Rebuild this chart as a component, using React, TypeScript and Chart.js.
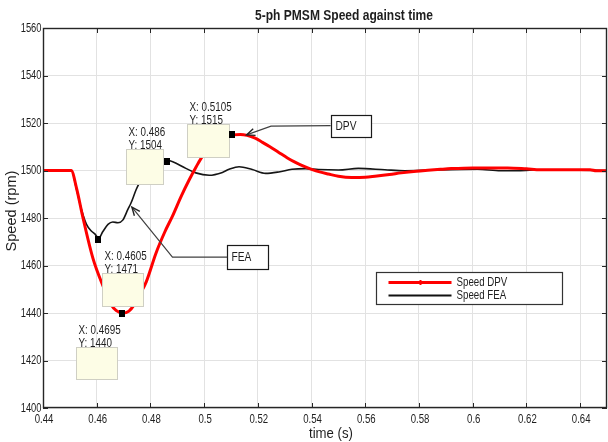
import React, { useEffect, useRef } from "react";
import { Chart, registerables } from "chart.js";

Chart.register(...registerables);

// ---------- data ----------
const xTicks = [0.44, 0.46, 0.48, 0.5, 0.52, 0.54, 0.56, 0.58, 0.6, 0.62, 0.64];
const xTickLabels = ["0.44", "0.46", "0.48", "0.5", "0.52", "0.54", "0.56", "0.58", "0.6", "0.62", "0.64"];
const yTicks = [1400, 1420, 1440, 1460, 1480, 1500, 1520, 1540, 1560];
const yTickLabels = ["1400", "1420", "1440", "1460", "1480", "1500", "1520", "1540", "1560"];

const seriesNames = ["Speed DPV", "Speed FEA"];
const titleText = "5-ph PMSM Speed against time";
const xTitle = "time (s)";
const yTitle = "Speed (rpm)";

const dpvTime = [
  0.44, 0.4505, 0.4525, 0.4549, 0.4586, 0.4623, 0.4654, 0.4673, 0.4697, 0.472,
  0.474, 0.4759, 0.4784, 0.4821, 0.4853, 0.4883, 0.4914, 0.4944, 0.497, 0.4994,
  0.503, 0.507, 0.5105, 0.5135, 0.516, 0.519, 0.5215, 0.5245, 0.5278, 0.531,
  0.534, 0.537, 0.54, 0.543, 0.5463, 0.55, 0.5549, 0.56, 0.5636, 0.569,
  0.5734, 0.579, 0.5833, 0.588, 0.592, 0.6, 0.613, 0.62, 0.6252, 0.6437,
  0.646, 0.65,
];
const dpvSpeed = [
  1500, 1500, 1492.5, 1480, 1463, 1451.5, 1443.5, 1441, 1440, 1440.8,
  1443.5, 1447.5, 1453, 1465.3, 1474, 1481, 1489, 1496, 1501.5, 1506,
  1510, 1513.5, 1515, 1515.2, 1514.8, 1513.6, 1512, 1510, 1507.6, 1505.3,
  1503.4, 1501.8, 1500.5, 1499.4, 1498.5, 1497.6, 1497.1, 1497.2, 1497.6, 1498.3,
  1499, 1499.7, 1500.1, 1500.5, 1500.8, 1501.1, 1501.1, 1500.7, 1500.3, 1500.3,
  1499.9, 1499.9,
];

const feaTime = [
  0.44, 0.4506, 0.4525, 0.4543, 0.4562, 0.458, 0.4593, 0.4607, 0.4623, 0.4642,
  0.466, 0.4679, 0.4697, 0.4716, 0.4728, 0.4747, 0.4759, 0.478, 0.481, 0.484,
  0.486, 0.4883, 0.4932, 0.4969, 0.5019, 0.5068, 0.5093, 0.513, 0.5179, 0.5229,
  0.5278, 0.5327, 0.5377, 0.5426, 0.55, 0.5574, 0.5673, 0.5747, 0.5846, 0.6019,
  0.6104, 0.617, 0.6252, 0.64, 0.65,
];
const feaSpeed = [
  1500, 1500, 1492, 1483.7, 1477.3, 1474.5, 1473.3, 1471.5, 1474.3, 1477.3,
  1478.3, 1478, 1479.1, 1483.6, 1486.4, 1492, 1494.8, 1499, 1502.5, 1504,
  1504.3, 1503.7, 1500.9, 1499, 1498, 1499.2, 1500.5, 1501.6, 1500.4, 1498.8,
  1499.4, 1500.5, 1500.8, 1500.4, 1500.2, 1500.9, 1500.3, 1499.9, 1500.2, 1500.5,
  1499.9, 1499.9, 1500.3, 1500.1, 1500,
];

// data tips
const tipTime = [0.4605, 0.4695, 0.486, 0.5105];
const tipSpeed = [1471, 1440, 1504, 1515];
const tipXText = ["X: 0.4605", "X: 0.4695", "X: 0.486", "X: 0.5105"];
const tipYText = ["Y: 1471", "Y: 1440", "Y: 1504", "Y: 1515"];

// text arrows
const arrowLabels = ["DPV", "FEA"];

// ---------- style / layout ----------
const FONT = "'Liberation Sans', Arial, sans-serif";
const TXT = "#1e1e1e";
// box offsets from marker pixel: [dx, dy, w, h]
const TIP_BOX = [
  [4, 34, 41, 33],
  [-46, 34, 41, 32],
  [-41, -12, 37, 35],
  [-45, -11, 42, 33],
];
// arrow annotations in data coords
const ARROWS = [
  { box: [0.5471, 1523.4, 0.5623, 1514.2], from: [0.5471, 1518.9], elbow: [0.5249, 1518.7], tip: [0.5158, 1515.0] },
  { box: [0.5086, 1468.6, 0.5237, 1458.5], from: [0.5086, 1463.5], elbow: [0.4882, 1463.5], tip: [0.4731, 1484.6] },
];
const LEGEND_BOX = [0.5641, 1457.2, 0.6331, 1443.7];

function line(ctx: CanvasRenderingContext2D, x1: number, y1: number, x2: number, y2: number) {
  ctx.beginPath();
  ctx.moveTo(x1, y1);
  ctx.lineTo(x2, y2);
  ctx.stroke();
}

function text(
  ctx: CanvasRenderingContext2D,
  s: string,
  x: number,
  y: number,
  size: number,
  sx: number,
  align: CanvasTextAlign = "left",
  bold = false,
  rot = 0
) {
  ctx.save();
  ctx.translate(x, y);
  if (rot) ctx.rotate(rot);
  ctx.scale(sx, 1);
  ctx.font = `${bold ? "bold " : ""}${size}px ${FONT}`;
  ctx.fillStyle = TXT;
  ctx.textAlign = align;
  ctx.textBaseline = "middle";
  ctx.fillText(s, 0, 0);
  ctx.restore();
}

const overlayPlugin = {
  id: "overlay",
  afterDatasetsDraw(chart: any) {
    const { ctx, chartArea: a, scales } = chart;
    const x = scales.x;
    const y = scales.y;
    ctx.save();

    // frame + inward ticks
    ctx.strokeStyle = "#262626";
    ctx.lineWidth = 1;
    for (const v of xTicks) {
      const px = Math.round(x.getPixelForValue(v)) + 0.5;
      line(ctx, px, a.bottom, px, a.bottom - 5);
      line(ctx, px, a.top, px, a.top + 5);
    }
    for (const v of yTicks) {
      const py = Math.round(y.getPixelForValue(v)) + 0.5;
      line(ctx, a.left, py, a.left + 5, py);
      line(ctx, a.right, py, a.right - 5, py);
    }
    ctx.lineWidth = 1.4;
    ctx.strokeRect(a.left + 0.5, a.top + 0.5, a.right - a.left - 1, a.bottom - a.top - 1);

    // tick labels
    xTicks.forEach((v, i) => {
      text(ctx, xTickLabels[i], x.getPixelForValue(v) + 1, a.bottom + 12, 12, 0.8, "center");
    });
    yTicks.forEach((v, i) => {
      text(ctx, yTickLabels[i], a.left - 1.5, y.getPixelForValue(v) + 0.5, 12, 0.78, "right");
    });

    // data tips
    for (let i = 0; i < tipTime.length; i++) {
      const px = x.getPixelForValue(tipTime[i]);
      const py = y.getPixelForValue(tipSpeed[i]);
      const [dx, dy, w, h] = TIP_BOX[i];
      const bx = Math.round(px + dx) + 0.5;
      const by = Math.round(py + dy) + 0.5;
      ctx.fillStyle = "#fdfde6";
      ctx.fillRect(bx, by, w, h);
      ctx.strokeStyle = "#cfcfc4";
      ctx.lineWidth = 1;
      ctx.strokeRect(bx, by, w, h);
      text(ctx, tipXText[i], bx + 2, by - 16.5, 12, 0.82);
      text(ctx, tipYText[i], bx + 2, by - 3.5, 12, 0.82);
      ctx.fillStyle = "#000";
      ctx.fillRect(Math.round(px - 3), Math.round(py - 3.5), 6, 7);
    }

    // arrows with labels
    for (let i = 0; i < ARROWS.length; i++) {
      const ar = ARROWS[i];
      const bx0 = Math.round(x.getPixelForValue(ar.box[0])) + 0.5;
      const by0 = Math.round(y.getPixelForValue(ar.box[1])) + 0.5;
      const bx1 = Math.round(x.getPixelForValue(ar.box[2])) + 0.5;
      const by1 = Math.round(y.getPixelForValue(ar.box[3])) + 0.5;
      ctx.fillStyle = "#fff";
      ctx.fillRect(bx0, by0, bx1 - bx0, by1 - by0);
      ctx.strokeStyle = "#1a1a1a";
      ctx.lineWidth = 1.2;
      ctx.strokeRect(bx0, by0, bx1 - bx0, by1 - by0);
      text(ctx, arrowLabels[i], bx0 + 4, (by0 + by1) / 2 + 0.5, 12, 0.85);

      const fx = x.getPixelForValue(ar.from[0]);
      const fy = y.getPixelForValue(ar.from[1]);
      const ex = x.getPixelForValue(ar.elbow[0]);
      const ey = y.getPixelForValue(ar.elbow[1]);
      const tx = x.getPixelForValue(ar.tip[0]);
      const ty = y.getPixelForValue(ar.tip[1]);
      ctx.strokeStyle = "#404040";
      ctx.lineWidth = 1.2;
      ctx.beginPath();
      ctx.moveTo(fx, fy);
      ctx.lineTo(ex, ey);
      ctx.lineTo(tx, ty);
      ctx.stroke();
      const ang = Math.atan2(ty - ey, tx - ex);
      const L = 9;
      ctx.beginPath();
      ctx.moveTo(tx - L * Math.cos(ang - 0.4), ty - L * Math.sin(ang - 0.4));
      ctx.lineTo(tx, ty);
      ctx.lineTo(tx - L * Math.cos(ang + 0.4), ty - L * Math.sin(ang + 0.4));
      ctx.strokeStyle = "#222";
      ctx.lineWidth = 1.4;
      ctx.stroke();
    }

    // legend
    const lx0 = Math.round(x.getPixelForValue(LEGEND_BOX[0])) + 0.5;
    const ly0 = Math.round(y.getPixelForValue(LEGEND_BOX[1])) + 0.5;
    const lx1 = Math.round(x.getPixelForValue(LEGEND_BOX[2])) + 0.5;
    const ly1 = Math.round(y.getPixelForValue(LEGEND_BOX[3])) + 0.5;
    ctx.fillStyle = "#fff";
    ctx.fillRect(lx0, ly0, lx1 - lx0, ly1 - ly0);
    ctx.strokeStyle = "#333";
    ctx.lineWidth = 1.2;
    ctx.strokeRect(lx0, ly0, lx1 - lx0, ly1 - ly0);
    const colors = ["#ff0000", "#111111"];
    const widths = [3, 2];
    for (let i = 0; i < seriesNames.length; i++) {
      const yy = ly0 + 10 + i * 13;
      ctx.strokeStyle = colors[i];
      ctx.lineWidth = widths[i];
      line(ctx, lx0 + 12, yy, lx0 + 75, yy);
      if (i === 0) {
        ctx.fillStyle = colors[i];
        ctx.fillRect(lx0 + 43, yy - 2.5, 2, 5);
      }
      text(ctx, seriesNames[i], lx0 + 80, yy, 12, 0.81);
    }

    // titles
    text(ctx, titleText, 344, 16, 14.5, 0.83, "center", true);
    text(ctx, xTitle, 331, 434, 15, 0.88, "center");
    text(ctx, yTitle, 12, 211, 15, 0.97, "center", false, -Math.PI / 2);

    ctx.restore();
  },
};

export default function App() {
  const ref = useRef<HTMLCanvasElement | null>(null);

  useEffect(() => {
    document.body.style.margin = "0";
    const canvas = ref.current;
    if (!canvas) return;
    const chart = new Chart(canvas, {
      type: "line",
      data: {
        datasets: [
          {
            label: seriesNames[0],
            data: dpvTime.map((t, i) => ({ x: t, y: dpvSpeed[i] })),
            borderColor: "#ff0000",
            borderWidth: 3,
            pointRadius: 0,
            cubicInterpolationMode: "monotone",
            fill: false,
          },
          {
            label: seriesNames[1],
            data: feaTime.map((t, i) => ({ x: t, y: feaSpeed[i] })),
            borderColor: "#151515",
            borderWidth: 1.6,
            pointRadius: 0,
            cubicInterpolationMode: "monotone",
            fill: false,
          },
        ],
      },
      options: {
        animation: false,
        responsive: false,
        devicePixelRatio: 1,
        layout: { padding: { top: 28, right: 1, left: 0, bottom: 0 } },
        plugins: {
          legend: { display: false },
          title: { display: false },
          tooltip: { enabled: false },
        },
        scales: {
          x: {
            type: "linear",
            min: 0.44,
            max: 0.65,
            afterBuildTicks: (s: any) => {
              s.ticks = xTicks.map((v) => ({ value: v }));
            },
            afterFit: (s: any) => {
              s.height = 34;
            },
            grid: { color: "#e2e2e2", drawTicks: false, lineWidth: 1 },
            border: { display: false },
            ticks: { display: false, autoSkip: false },
          },
          y: {
            type: "linear",
            min: 1400,
            max: 1560,
            afterBuildTicks: (s: any) => {
              s.ticks = yTicks.map((v) => ({ value: v }));
            },
            afterFit: (s: any) => {
              s.width = 43;
            },
            grid: { color: "#e2e2e2", drawTicks: false, lineWidth: 1 },
            border: { display: false },
            ticks: { display: false, autoSkip: false },
          },
        },
      },
      plugins: [overlayPlugin],
    });
    return () => chart.destroy();
  }, []);

  return (
    <div style={{ position: "absolute", left: 0, top: 0, width: 608, height: 442, background: "#fff" }}>
      <canvas ref={ref} width={608} height={442} style={{ display: "block" }} />
    </div>
  );
}
